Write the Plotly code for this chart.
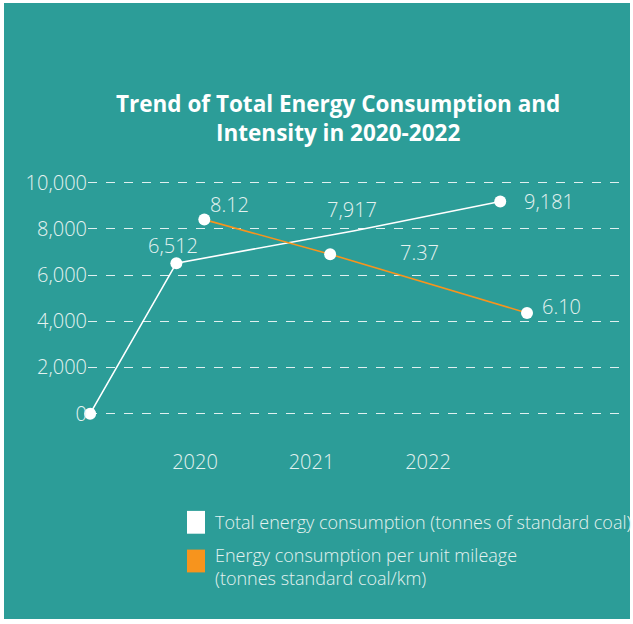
import plotly.graph_objects as go

# ---- data ----
years = [2020, 2021, 2022]
year_labels = ["2020", "2021", "2022"]

total_energy = [0, 6512, 7917, 9181]          # tonnes of standard coal
total_labels = ["", "6,512", "7,917", "9,181"]
intensity = [8.12, 7.37, 6.10]                # tonnes standard coal / km
intensity_labels = ["8.12", "7.37", "6.10"]

y_ticks = [0, 2000, 4000, 6000, 8000, 10000]

# ---- placement of the points along the year axis ----
total_x = [2019.10, 2019.84, 2021.37, 2022.62]
total_marker = [12, 12, 0, 12]
intensity_x = [2020.08, 2021.16, 2022.85]

# ---- styling ----
TEAL = "#2C9D98"
WHITE = "#FFFFFF"
ORANGE = "#F7941D"
TXT = "#E4F2F0"
FONT = "Open Sans"

W, H = 633, 624

def px_x(p):
    return p / W

def px_y(p):
    return 1 - p / H

fig = go.Figure()

fig.add_trace(go.Scatter(
    x=total_x, y=total_energy, mode="lines+markers", cliponaxis=False,
    line=dict(color=WHITE, width=1.6),
    marker=dict(color=WHITE, size=total_marker, opacity=1, line=dict(width=0)),
    hoverinfo="skip", showlegend=False,
))
fig.add_trace(go.Scatter(
    x=intensity_x, y=intensity, mode="lines+markers", yaxis="y2", cliponaxis=False,
    line=dict(color=ORANGE, width=1.6),
    marker=dict(color=WHITE, size=12, opacity=1, line=dict(width=0)),
    hoverinfo="skip", showlegend=False,
))

# value labels next to the points
total_shift = [(0, 0), (-3, 18), (-3, 21), (49, 0)]
for x, y, t, (dx, dy) in zip(total_x, total_energy, total_labels, total_shift):
    if t:
        fig.add_annotation(x=x, y=y, text=t, showarrow=False, xshift=dx, yshift=dy,
                           font=dict(family=FONT, size=20, color=TXT, weight=300))
int_shift = [(25, 15), (89, 2), (34, 6)]
for x, y, t, (dx, dy) in zip(intensity_x, intensity, intensity_labels, int_shift):
    fig.add_annotation(x=x, y=y, text=t, showarrow=False, xshift=dx, yshift=dy,
                       yref="y2", font=dict(family=FONT, size=20, color=TXT, weight=300))

# title
fig.add_annotation(
    x=px_x(338), y=px_y(116), xref="paper", yref="paper", showarrow=False,
    text="Trend of Total Energy Consumption and<br>Intensity in 2020-2022",
    font=dict(family=FONT, size=22.5, color=WHITE, weight=700),
    align="center", xanchor="center", yanchor="middle",
)

# legend
shapes = [
    dict(type="rect", xref="paper", yref="paper",
         x0=px_x(4), x1=px_x(630), y0=px_y(621), y1=px_y(0),
         fillcolor=TEAL, line=dict(width=0), layer="below"),
    dict(type="rect", xref="paper", yref="paper",
         x0=px_x(187), x1=px_x(205), y0=px_y(535), y1=px_y(512),
         fillcolor=WHITE, line=dict(width=0)),
    dict(type="rect", xref="paper", yref="paper",
         x0=px_x(187), x1=px_x(205), y0=px_y(574), y1=px_y(551),
         fillcolor=ORANGE, line=dict(width=0)),
]
fig.add_annotation(
    x=px_x(213), y=px_y(523), xref="paper", yref="paper", showarrow=False,
    text="Total energy consumption (tonnes of standard coal)",
    xanchor="left", yanchor="middle", align="left",
    font=dict(family=FONT, size=18, color=TXT, weight=300),
)
fig.add_annotation(
    x=px_x(213), y=px_y(568), xref="paper", yref="paper", showarrow=False,
    text="Energy consumption per unit mileage<br>(tonnes standard coal/km)",
    xanchor="left", yanchor="middle", align="left",
    font=dict(family=FONT, size=18, color=TXT, weight=300),
)

# axes: plot area spans x 88-622 px, y 170-425 px
x_left, x_right = 88, 622
y_top, y_bot = 170, 425
yr_px = 116.5
x0 = 2020 + (x_left - 195) / yr_px
x1 = 2020 + (x_right - 195) / yr_px
k = 0.0233  # px per unit
y0 = (414 - y_bot) / k
y1 = (414 - y_top) / k
s = 46.56
v_top = 8.12 + (218.36 - y_top) / s
v_bot = 8.12 - (y_bot - 218.36) / s

fig.update_layout(
    width=W, height=H, autosize=False,
    margin=dict(l=0, r=0, t=0, b=0),
    paper_bgcolor=WHITE, plot_bgcolor="rgba(0,0,0,0)",
    shapes=shapes,
    xaxis=dict(
        domain=[px_x(x_left), px_x(x_right)], range=[x0, x1],
        tickvals=years, ticktext=year_labels, showgrid=False, zeroline=False,
        showline=False, ticks="outside", ticklen=19, tickcolor="rgba(0,0,0,0)",
        tickfont=dict(family=FONT, size=20, color=TXT, weight=300),
    ),
    yaxis=dict(
        domain=[px_y(y_bot), px_y(y_top)], range=[y0, y1],
        tickvals=y_ticks, tickformat=",", showgrid=True,
        gridcolor="rgba(255,255,255,0.85)", griddash="dash", gridwidth=1.2,
        zeroline=False, showline=False, ticks="",
        tickfont=dict(family=FONT, size=20, color=TXT, weight=300),
    ),
    yaxis2=dict(
        overlaying="y", range=[v_bot, v_top], visible=False,
    ),
)

fig.write_html("out.html")
